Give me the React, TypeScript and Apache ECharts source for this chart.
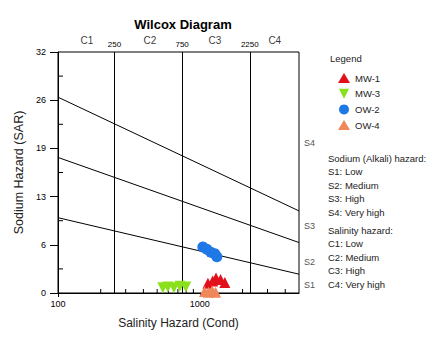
import React, { useEffect, useRef } from "react";
import * as echarts from "echarts";

const FONT = "'Liberation Sans', Arial, sans-serif";

// Salinity class boundaries (Cond) and class labels
const salinityBounds = [250, 750, 2250];
const salinityClasses = ["C1", "C2", "C3", "C4"];
const salinityClassPos = [160, 445, 1275, 3375];

// Sodium hazard boundary lines: [cond, SAR] endpoints
const lineS3S4 = [[100, 26.0], [5000, 10.9]];
const lineS2S3 = [[100, 18.0], [5000, 6.7]];
const lineS1S2 = [[100, 10.0], [5000, 2.5]];
const sodiumClasses = ["S4", "S3", "S2", "S1"];
const sodiumClassPos = [19.9, 8.9, 4.1, 1.1];

// Samples [Cond, SAR]
const mw1 = [[1140, 1.3], [1230, 1.6], [1300, 2.0], [1400, 1.8], [1500, 1.4]];
const mw3 = [[548, 0.7], [595, 0.8], [656, 0.7], [723, 0.9], [796, 0.8]];
const ow2 = [[1050, 6.1], [1120, 5.8], [1195, 5.4], [1275, 5.2], [1318, 4.8]];
const ow4 = [[1080, 0.2], [1150, 0.1], [1220, 0.3], [1290, 0.1]];

// Axis ticks
const yInterval = 6.4;
const xMinorTicks = [200, 300, 400, 500, 600, 700, 800, 900, 2000, 3000, 4000];
const yMinorTicks = [3.2, 9.6, 16, 22.4, 28.8];

const sodiumText = ["Sodium (Alkali) hazard:", "S1: Low", "S2: Medium", "S3: High", "S4: Very high"];
const salinityText = ["Salinity hazard:", "C1: Low", "C2: Medium", "C3: High", "C4: Very high"];

export default function App() {
  const ref = useRef<HTMLDivElement>(null);
  useEffect(() => {
    document.body.style.margin = "0";
    const chart = echarts.init(ref.current!, null, { renderer: "svg" });
    const boundaryLine = (name: string, data: number[][], extra: any = {}) => ({
      name,
      type: "line",
      data,
      symbol: "none",
      silent: true,
      lineStyle: { color: "#000", width: 1 },
      z: 1,
      ...extra,
    });
    const scatter = (name: string, data: number[][], symbol: string, color: string, size: number) => ({
      name,
      type: "scatter",
      data,
      symbol,
      symbolSize: size,
      itemStyle: { color, opacity: 1 },
      clip: false,
      z: 5,
    });
    const textBlock = (lines: string[], top: number) =>
      lines.map((t, i) => ({
        type: "text",
        left: 328,
        top: top + i * 13.5,
        style: { text: t, font: `9.5px ${FONT}`, fill: "#222" },
      }));

    chart.setOption({
      animation: false,
      backgroundColor: "#fff",
      title: {
        text: "Wilcox Diagram",
        left: 178,
        textAlign: "center",
        top: 13,
        textStyle: { fontSize: 13, fontWeight: "bold", fontFamily: FONT, color: "#000" },
      },
      legend: {
        orient: "vertical",
        left: 333,
        top: 68,
        itemWidth: 12,
        itemHeight: 10,
        itemGap: 5.7,
        data: ["MW-1", "MW-3", "OW-2", "OW-4"],
        textStyle: { fontSize: 9.5, fontFamily: FONT, color: "#222" },
      },
      grid: {
        left: 58,
        top: 52,
        width: 241,
        height: 241,
        show: true,
        borderColor: "#000",
        borderWidth: 1,
        backgroundColor: "transparent",
      },
      xAxis: {
        type: "log",
        logBase: 10,
        min: 100,
        max: 5000,
        name: "Salinity Hazard (Cond)",
        nameLocation: "middle",
        nameGap: 24,
        nameTextStyle: { fontSize: 12, fontFamily: FONT, color: "#222" },
        axisLine: { lineStyle: { color: "#000", width: 1 } },
        axisTick: { length: 4, lineStyle: { color: "#000" } },
        axisLabel: {
          fontSize: 9,
          fontFamily: FONT,
          color: "#000",
          margin: 6,
          showMaxLabel: false,
          formatter: (v: number) => String(Math.round(v)),
        },
        splitLine: { show: false },
      },
      yAxis: {
        type: "value",
        min: 0,
        max: 32,
        interval: yInterval,
        name: "Sodium Hazard (SAR)",
        nameLocation: "middle",
        nameGap: 30,
        nameRotate: 90,
        nameTextStyle: { fontSize: 12.5, fontFamily: FONT, color: "#222" },
        axisLine: { lineStyle: { color: "#000", width: 1 } },
        axisTick: { length: 8, lineStyle: { color: "#000" } },
        axisLabel: {
          fontSize: 9,
          fontFamily: FONT,
          color: "#000",
          margin: 12,
          formatter: (v: number) => String(Math.round(v)),
        },
        splitLine: { show: false },
      },
      graphic: [
        {
          type: "text",
          left: 330,
          top: 53,
          style: { text: "Legend", font: `9.5px ${FONT}`, fill: "#222" },
        },
        ...textBlock(sodiumText, 153),
        ...textBlock(salinityText, 225),
      ],
      series: [
        boundaryLine("S3/S4", lineS3S4, {
          markLine: {
            silent: true,
            symbol: "none",
            lineStyle: { color: "#000", type: "solid", width: 1 },
            label: {
              position: "end",
              distance: 4,
              fontSize: 8,
              fontFamily: FONT,
              color: "#000",
              formatter: (p: any) => String(p.value),
            },
            data: salinityBounds.map((v) => ({ xAxis: v })),
          },
        }),
        boundaryLine("S2/S3", lineS2S3),
        boundaryLine("S1/S2", lineS1S2),
        {
          name: "salinityClasses",
          type: "scatter",
          silent: true,
          clip: false,
          symbolSize: 0,
          data: salinityClassPos.map((x, i) => ({ value: [x, 32], name: salinityClasses[i] })),
          label: {
            show: true,
            position: "top",
            distance: 7,
            formatter: (p: any) => p.name,
            fontSize: 10,
            fontFamily: FONT,
            color: "#000",
          },
        },
        {
          name: "sodiumClasses",
          type: "scatter",
          silent: true,
          clip: false,
          symbolSize: 0,
          data: sodiumClassPos.map((y, i) => ({ value: [5000, y], name: sodiumClasses[i] })),
          label: {
            show: true,
            position: "right",
            distance: 5,
            formatter: (p: any) => p.name,
            fontSize: 9,
            fontFamily: FONT,
            color: "#222",
          },
        },
        {
          name: "xMinor",
          type: "custom",
          silent: true,
          clip: false,
          data: xMinorTicks.map((v) => [v, 0]),
          renderItem: (params: any, api: any) => {
            const p = api.coord([api.value(0), api.value(1)]);
            return {
              type: "line",
              shape: { x1: p[0], y1: p[1], x2: p[0], y2: p[1] - 4 },
              style: { stroke: "#000", lineWidth: 1 },
            };
          },
        },
        {
          name: "yMinor",
          type: "custom",
          silent: true,
          clip: false,
          data: yMinorTicks.map((v) => [100, v]),
          renderItem: (params: any, api: any) => {
            const p = api.coord([api.value(0), api.value(1)]);
            return {
              type: "line",
              shape: { x1: p[0], y1: p[1], x2: p[0] + 5, y2: p[1] },
              style: { stroke: "#000", lineWidth: 1 },
            };
          },
        },
        scatter("MW-1", mw1, "triangle", "#e3101c", 11),
        scatter("MW-3", mw3, "path://M0,0 L10,0 L5,10 Z", "#8ae01c", 11),
        scatter("OW-2", ow2, "circle", "#1e78e6", 11),
        scatter("OW-4", ow4, "triangle", "#f0875a", 11),
      ],
    });
    return () => chart.dispose();
  }, []);
  return <div ref={ref} style={{ width: 448, height: 356 }} />;
}
